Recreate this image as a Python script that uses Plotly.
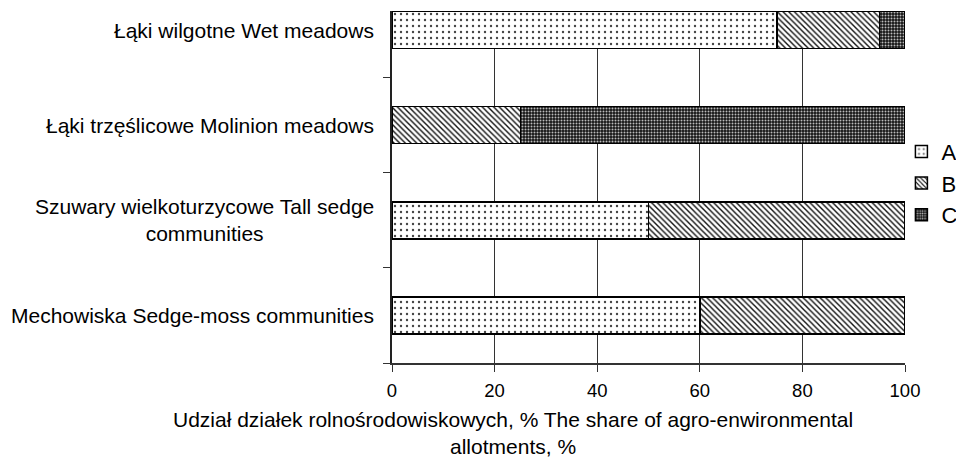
import plotly.graph_objects as go

categories = [
    "Mechowiska Sedge-moss communities",
    "Szuwary wielkoturzycowe Tall sedge<br>communities",
    "Łąki trzęślicowe Molinion meadows",
    "Łąki wilgotne Wet meadows",
]
series_names = ["A", "B", "C"]
values_A = [60, 50, 0, 75]
values_B = [40, 50, 25, 20]
values_C = [0, 0, 75, 5]
x_ticks = [0, 20, 40, 60, 80, 100]
x_title = "Udział działek rolnośrodowiskowych, % The share of agro-enwironmental<br>allotments, %"

FONT = "Liberation Sans, Arial, sans-serif"

patterns = [
    dict(color="white", pattern=dict(shape=".", fgcolor="#444", bgcolor="white", size=6, solidity=0.12, fillmode="replace")),
    dict(color="white", pattern=dict(shape="\\", fgcolor="#111", bgcolor="white", size=4, solidity=0.35, fillmode="replace")),
    dict(color="black", pattern=dict(shape=".", fgcolor="#bbbbbb", bgcolor="#151515", size=3, solidity=0.35, fillmode="replace")),
]

fig = go.Figure()
for name, vals, pat in zip(series_names, [values_A, values_B, values_C], patterns):
    fig.add_trace(go.Bar(
        y=categories, x=vals, name=name, orientation="h", width=0.39,
        legendgroup=name,
        marker=dict(color=pat["color"], pattern=pat["pattern"],
                    line=dict(color="black", width=1.5)),
    ))

annotations = []
for c in categories:
    annotations.append(dict(
        x=-0.032, xref="paper", y=c, yref="y", text=c, showarrow=False,
        xanchor="right", yanchor="middle", align="center",
        font=dict(family=FONT, size=21, color="black"),
    ))
annotations.append(dict(
    x=0.235, xref="paper", y=-0.199, yref="paper", text=x_title, showarrow=False,
    xanchor="center", yanchor="middle", align="center",
    font=dict(family=FONT, size=21, color="black"),
))

fig.update_layout(
    width=956, height=451,
    margin=dict(l=384, r=59, t=2.5, b=96, autoexpand=False),
    barmode="stack",
    plot_bgcolor="white", paper_bgcolor="white",
    font=dict(family=FONT, color="black"),
    showlegend=True,
    legend=dict(x=0.993, y=0.66, xanchor="left", yanchor="top",
                font=dict(family=FONT, size=22, color="black"),
                traceorder="normal", tracegroupgap=5,
                bgcolor="rgba(0,0,0,0)"),
    annotations=annotations,
    xaxis=dict(range=[0, 100], tickvals=x_ticks, showgrid=True, gridcolor="#333333",
               gridwidth=1, zeroline=False, showline=True, linecolor="#333333", linewidth=1.5,
               ticks="outside", ticklen=7, tickcolor="#333333", ticklabelstandoff=3,
               tickfont=dict(family=FONT, size=18.5, color="black")),
    yaxis=dict(type="category", categoryorder="array", categoryarray=categories,
               range=[-0.5, 3.2], showticklabels=False, showgrid=False, zeroline=False,
               showline=True, linecolor="#222222", linewidth=1.5,
               ticks="outside", ticklen=7, tickcolor="#333333", tickson="boundaries"),
)

fig.write_html("out.html")
